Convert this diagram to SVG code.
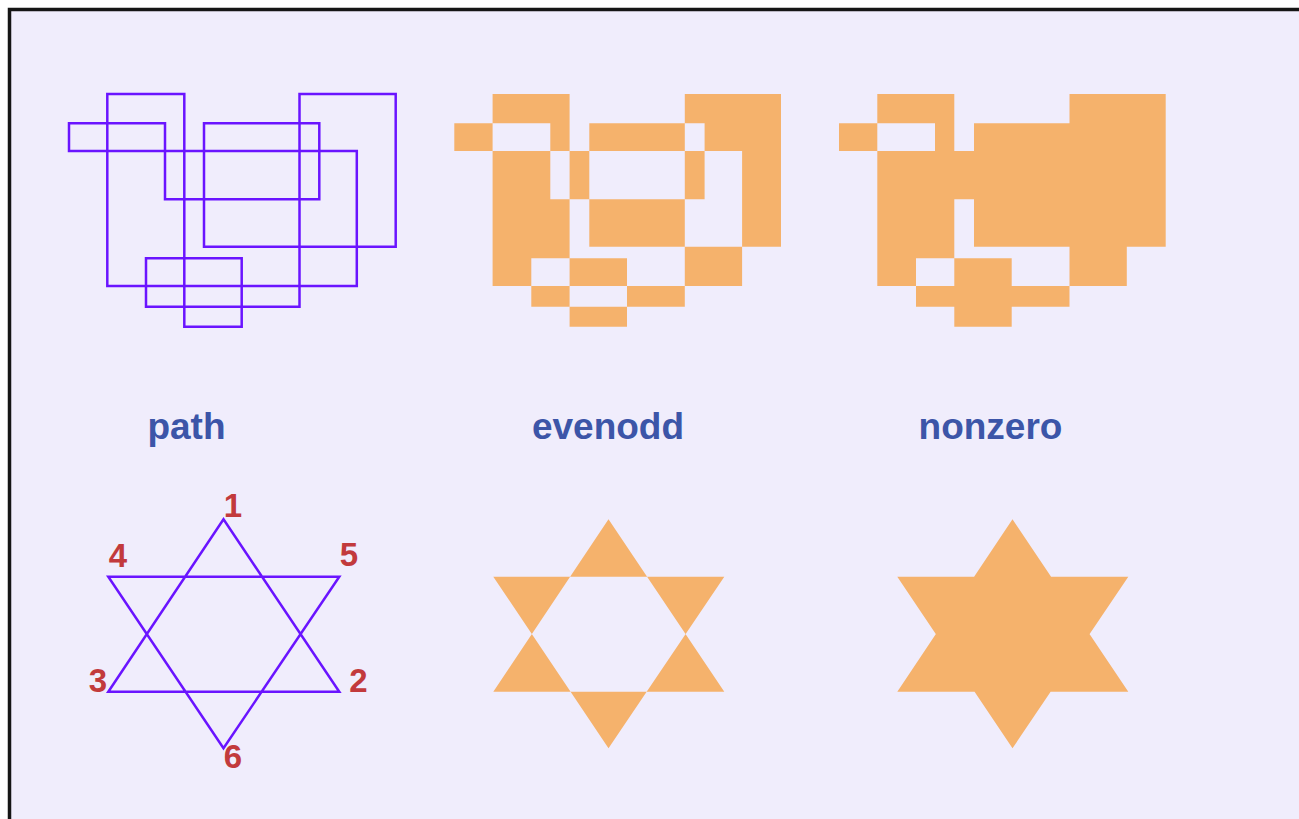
<svg xmlns="http://www.w3.org/2000/svg" xmlns:xlink="http://www.w3.org/1999/xlink" width="1299" height="819" viewBox="0 0 1299 819">
  <style>
    .outline { fill: none; stroke: #6a14ff; stroke-width: 2.5; stroke-linejoin: miter; }
    .filled { fill: #f5b26c; stroke: none; }
    .title { font-family: "Liberation Sans", Arial, sans-serif; font-weight: bold; font-size: 37px; fill: #3c55a8; text-anchor: middle; }
    .num { font-family: "Liberation Sans", Arial, sans-serif; font-weight: bold; font-size: 33px; fill: #c23a3c; text-anchor: middle; }
  </style>
  <defs>
    <path id="blocks" d="M107.3,94 L184.3,94 L184.3,326.7 L241.7,326.7 L241.7,258.3 L146,258.3 L146,306.7 L299.5,306.7 L299.5,94 L395.7,94 L395.7,246.7 L204,246.7 L204,123.3 L319.3,123.3 L319.3,199.3 L165,199.3 L165,123.3 L69,123.3 L69,151 L356.8,151 L356.8,286 L107.3,286 Z"/>
    <path id="star" d="M223.5,519.3 L339.3,691.7 L108.3,691.7 Z M108.3,576.7 L339.3,576.7 L223.5,748.3 Z"/>
  </defs>
  <rect x="0" y="0" width="1299" height="819" fill="#ffffff"/>
  <rect id="frame" x="9.5" y="9.5" width="1300" height="820" fill="#f0edfc" stroke="#151515" stroke-width="3.5"/>

  <g id="path-demo">
    <use xlink:href="#blocks" class="outline"/>
    <use xlink:href="#star" class="outline"/>
    <text class="title" x="186.5" y="438.5">path</text>
  </g>

  <g id="evenodd-demo">
    <use xlink:href="#blocks" class="filled" fill-rule="evenodd" transform="translate(385.3,0)"/>
    <use xlink:href="#star" class="filled" fill-rule="evenodd" transform="translate(385,0)"/>
    <text class="title" x="608" y="438.5">evenodd</text>
  </g>

  <g id="nonzero-demo">
    <use xlink:href="#blocks" class="filled" fill-rule="nonzero" transform="translate(770,0)"/>
    <use xlink:href="#star" class="filled" fill-rule="nonzero" transform="translate(789,0)"/>
    <text class="title" x="990.5" y="438.5">nonzero</text>
  </g>

  <g id="vertex-labels">
    <text class="num" x="233" y="517">1</text>
    <text class="num" x="358.5" y="692">2</text>
    <text class="num" x="98" y="692">3</text>
    <text class="num" x="118" y="567">4</text>
    <text class="num" x="349" y="566">5</text>
    <text class="num" x="233" y="768">6</text>
  </g>
</svg>
